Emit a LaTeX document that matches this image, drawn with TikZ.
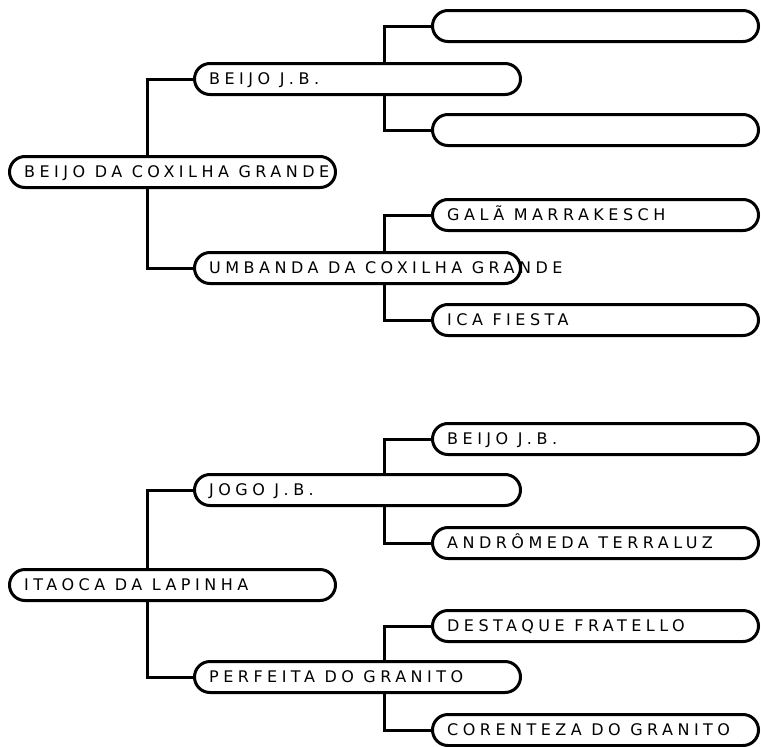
\documentclass[tikz,border=0pt]{standalone}
\usepackage{fontspec}
\newfontfamily\pedfont[LetterSpace=28]{DejaVu Sans}
\usetikzlibrary{shapes.misc,backgrounds}

\tikzset{
  pill/.style={rounded rectangle, draw, line width=3pt, fill=white,
    minimum width=326pt, minimum height=31pt, inner sep=0pt},
  conn/.style={line width=3pt},
  nome/.style={anchor=base west, inner sep=0pt,
    font=\pedfont\fontsize{16}{19}\selectfont},
}

% text inside a box, set from the box's left end
\newcommand{\nomear}[2]{\node[nome] (#1-txt) at ([xshift=16pt,yshift=-5.8pt]#1.west) {#2};}

\begin{document}
\begin{tikzpicture}[x=1pt,y=-1pt]
    \useasboundingbox (0,0) rectangle (761,747);

    % first pedigree
    \node[pill] (raizA) at (172.5,172) {};
    \node[pill] (paiA) at (357.5,79) {};
    \node[pill] (maeA) at (357.5,268) {};
    \node[pill] (avoA) at (595.5,26) {};
    \node[pill] (avaA) at (595.5,130) {};
    \node[pill] (avoB) at (595.5,215) {};
    \node[pill] (avaB) at (595.5,320) {};

    % second pedigree
    \node[pill] (raizB) at (172.5,585) {};
    \node[pill] (paiB) at (357.5,490) {};
    \node[pill] (maeB) at (357.5,677) {};
    \node[pill] (avoC) at (595.5,439) {};
    \node[pill] (avaC) at (595.5,543) {};
    \node[pill] (avoD) at (595.5,626) {};
    \node[pill] (avaD) at (595.5,730) {};

    % names
    \nomear{raizA}{BEIJO DA COXILHA GRANDE}
    \nomear{paiA}{BEIJO J.B.}
    \nomear{maeA}{UMBANDA DA COXILHA GRANDE}
    \nomear{avoB}{GALÃ MARRAKESCH}
    \nomear{avaB}{ICA FIESTA}
    \nomear{raizB}{ITAOCA DA LAPINHA}
    \nomear{paiB}{JOGO J.B.}
    \nomear{maeB}{PERFEITA DO GRANITO}
    \nomear{avoC}{BEIJO J.B.}
    \nomear{avaC}{ANDRÔMEDA TERRALUZ}
    \nomear{avoD}{DESTAQUE FRATELLO}
    \nomear{avaD}{CORENTEZA DO GRANITO}

    % brackets behind the boxes
    \coordinate (eixo1) at (147,0);
    \coordinate (eixo2) at (384,0);
    \begin{scope}[on background layer]
        \fill[white] (0,0) rectangle (761,747);
        \draw[conn] (paiA.west) -| (eixo1 |- maeA.west) -- (maeA.west);
        \draw[conn] (avoA.west) -| (eixo2 |- avaA.west) -- (avaA.west);
        \draw[conn] (avoB.west) -| (eixo2 |- avaB.west) -- (avaB.west);
        \draw[conn] (paiB.west) -| (eixo1 |- maeB.west) -- (maeB.west);
        \draw[conn] (avoC.west) -| (eixo2 |- avaC.west) -- (avaC.west);
        \draw[conn] (avoD.west) -| (eixo2 |- avaD.west) -- (avaD.west);
    \end{scope}
\end{tikzpicture}
\end{document}
